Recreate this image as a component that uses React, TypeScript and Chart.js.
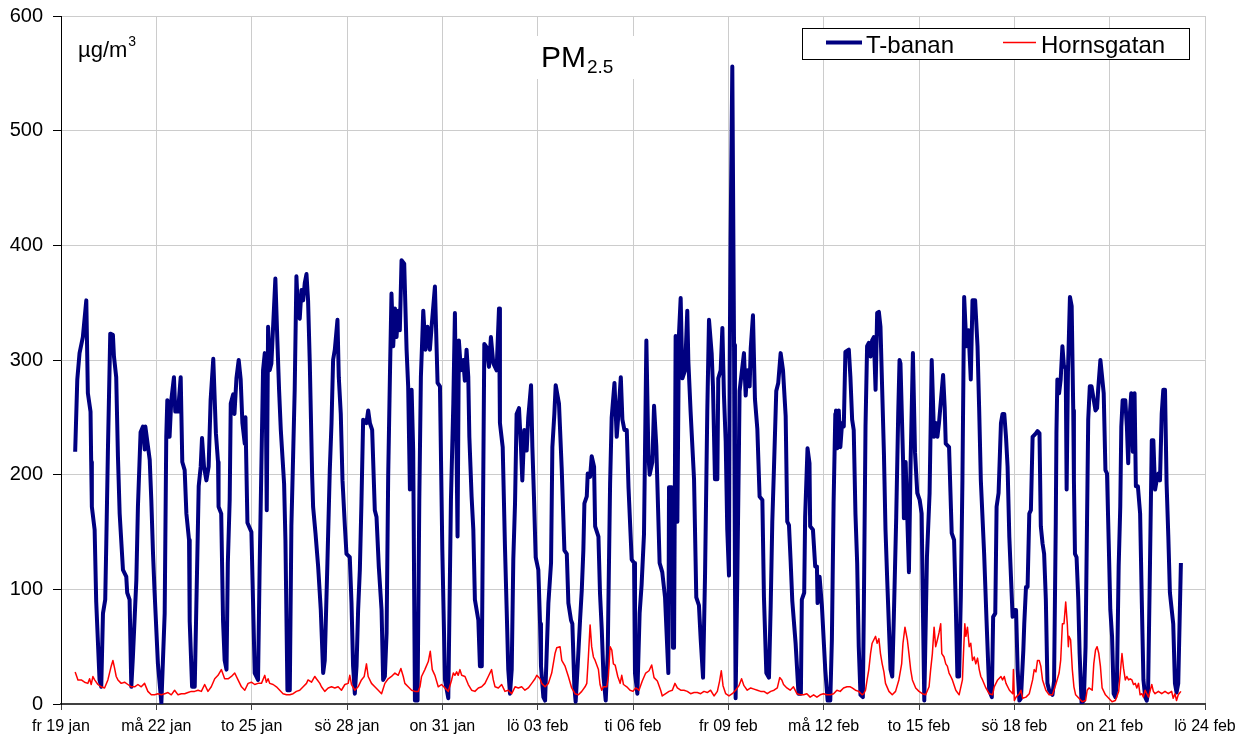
import React, { useEffect, useRef } from "react";
import { Chart, registerables } from "chart.js";

Chart.register(...registerables);

const FONT = '"Liberation Sans", Arial, sans-serif';

// x axis: hours since fr 19 jan 00:00, a tick every 3 days
const xTickLabels = [
  "fr 19 jan", "må 22 jan", "to 25 jan", "sö 28 jan", "on 31 jan", "lö 03 feb",
  "ti 06 feb", "fr 09 feb", "må 12 feb", "to 15 feb", "sö 18 feb", "on 21 feb", "lö 24 feb",
];
const xStepHours = 72;
const xMaxHours = 864;
const yMin = 0;
const yMax = 600;
const yStep = 100;

const titleMain = "PM";
const titleSub = "2.5";
const unitMain = "µg/m";
const unitSup = "3";
const seriesNames = ["T-banan", "Hornsgatan"];

// T-banan (hours, µg/m3)
const tbananHours = [
  10.7, 12.3, 14, 16.5, 19.1, 20.3, 22.3, 22.8, 23.3, 25.4, 26.6, 29.1, 30.4, 31.7, 33.4, 34.2, 35.4, 37.2, 39.2, 40,
  41.7, 43, 44.3, 46.8, 49.3, 50, 51.8, 53.1, 54.3, 56.9, 58.1, 60.1, 61.9, 63.2, 63.7, 67, 68.2, 69.5, 70.7, 73.2,
  75.8, 78.3, 79.5, 80.3, 82, 83.3, 85.3, 86.3, 88.4, 90.4, 91.6, 93.4, 94.7, 96.7, 97.2, 99, 101, 103, 104, 105.5,
  106.5, 108, 109.8, 111.5, 113, 115, 117, 118.6, 119, 121, 122.4, 123.6, 125, 126, 127.4, 128.2, 130, 131, 132.5, 134.2,
  135.7, 137, 138.8, 139.3, 140.8, 143.8, 146.3, 148.8, 150, 152.6, 153.9, 154.4, 155.4, 156.4, 157.6, 158.9, 161.9, 163.4, 164.7, 166,
  168.5, 169.5, 171, 172.8, 174, 175.3, 176.5, 177.8, 179, 180.3, 181.6, 182.9, 184.1, 185.4, 186.6, 187.9, 189.7, 190.4, 192.2, 194.2,
  196.2, 198, 199.2, 201.2, 203, 204.3, 205.5, 206.8, 208.8, 209.8, 211.3, 212.6, 214.4, 215.6, 218.1, 219.4, 220.6, 221.9, 223.2, 224.4,
  225.7, 226.9, 228.2, 230.7, 232, 233.3, 235, 237, 238.3, 240, 242.1, 243.3, 244.6, 245.9, 247.1, 248.4, 249.6, 250.9, 252.2, 253.4,
  254.7, 255.9, 257.2, 259.2, 261, 262.2, 263.5, 264.8, 266, 267.3, 269.3, 270.6, 271.8, 273.6, 275.3, 276.8, 278.6, 279.9, 282.4, 284.4,
  286.2, 288, 290, 292.5, 294.5, 296.3, 297.5, 299.5, 300.5, 302, 303.8, 305, 306.3, 307.6, 308.4, 310.1, 311.4, 312.6, 313.9, 315.2,
  316.4, 317.8, 319.7, 321.5, 323.2, 324.7, 326.5, 329, 330.8, 331.5, 333.6, 335.3, 336.6, 337.8, 339.1, 340.4, 341.6, 342.9, 344.1, 345.9,
  347.4, 348.4, 349.9, 351.7, 352.9, 355, 356, 357.2, 358.5, 360.5, 361.8, 362.5, 364.3, 365.6, 366.8, 368.1, 370.1, 371.1, 372.6, 373.6,
  376.1, 378.2, 380.2, 382, 383.2, 385.2, 386.2, 387.7, 388.7, 390.2, 392, 393.3, 394.5, 395.3, 397.1, 397.8, 399.6, 400.8, 402.6, 403.4,
  405.9, 407.1, 408.4, 409.7, 411.4, 412.9, 414.7, 415.9, 418, 419.7, 421, 422.8, 424, 425.5, 427.3, 428.6, 431, 432.8, 433.5, 435.3,
  437, 438.5, 440.3, 442.1, 443.6, 444.6, 446.6, 447.9, 449.6, 452.1, 454.1, 456.2, 458.7, 459.2, 461.2, 462.2, 463, 464.2, 465.5, 466.7,
  468, 469.3, 471.3, 473, 473.8, 475.5, 478.1, 479.8, 481.8, 483.1, 484.9, 486.4, 488.1, 489.4, 491.4, 492.4, 493.9, 495.7, 496.4, 498.2,
  499.5, 500.7, 502, 503.2, 504.5, 505, 505.7, 507, 508.3, 509, 509.5, 510.8, 512, 512.5, 514, 515.8, 517.1, 518.3, 520.1, 520.9,
  522.6, 524.1, 525.9, 527.6, 529.7, 530.9, 532.7, 534.7, 536, 537.2, 538.5, 540.2, 541.7, 543.5, 545.3, 547.3, 548.5, 549.8, 551, 552.3,
  554.8, 557, 558.8, 559.5, 561.3, 562, 563.8, 565.3, 565.8, 567.9, 569.6, 570.9, 571.4, 572.9, 574.7, 577.2, 579, 581, 582.2, 583.5,
  584.8, 585.3, 586.1, 587.4, 588.6, 589.9, 591.2, 592.4, 595, 596.2, 597.5, 598.7, 600, 601.3, 602.5, 603.8, 605.6, 606.3, 607.6, 608.8,
  610.1, 611.4, 612.6, 613.9, 615.2, 616.4, 617.7, 618.9, 620.2, 621.5, 622.7, 624, 625.3, 626.5, 627.8, 629, 630.8, 632.3, 633.3, 634,
  636, 636.6, 637.9, 640.4, 641.7, 643.4, 645, 646.7, 648.5, 650, 651, 652, 654, 656, 657.6, 659.4, 660.6, 661.9, 663.1, 666.2,
  667.4, 668.2, 670.7, 672.7, 674.5, 675.8, 677, 678.3, 679.6, 680.8, 682.1, 683.8, 685.4, 687.1, 688.4, 690.4, 692.2, 693.4, 694.7, 697.2,
  699, 701, 703, 704, 705.6, 706.6, 708.1, 709.9, 711.1, 712.4, 713.7, 714.9, 716.2, 718.7, 720, 721.3, 722.5, 723.8, 725, 726.8,
  727.5, 728.8, 730, 731.3, 732.5, 733.8, 736.3, 737.5, 739, 740, 741.3, 742.5, 743.8, 745, 746.3, 748.8, 750, 751.3, 751.8, 752.5,
  753.8, 755, 756.3, 757.5, 758.8, 759.5, 760.5, 762, 763.3, 764.5, 765, 765.8, 767, 768.3, 769.3, 770.8, 772.5, 773.8, 775.8, 777,
  778.3, 780, 781.3, 782.5, 783.3, 785, 786.3, 787.5, 788.8, 790, 791.3, 792.5, 793.8, 795, 796.3, 797.5, 798.8, 800, 800.8, 801.8,
  803.8, 805, 806, 806.8, 808.3, 809.5, 810.8, 811.8, 813.3, 815, 816.3, 817.5, 818.8, 820, 821, 822.5, 823.8, 825, 826.3, 827.5,
  828.8, 830, 831.3, 832.5, 833.8, 835, 836.3, 837.5, 840, 841.3, 842.5, 843.8, 845.8,
];
const tbananValues = [
  220, 283, 306, 320, 352, 271, 255, 211, 172, 152, 89, 21, 15, 79, 91, 140, 219, 323, 322, 303,
  285, 216, 166, 117, 111, 97, 91, 15, 41, 108, 172, 237, 242, 222, 242, 213, 178, 131, 97, 35,
  1, 79, 233, 265, 233, 265, 285, 255, 255, 285, 211, 204, 166, 143, 72, 15, 15, 131, 190, 207,
  232, 207, 195, 207, 265, 301, 236, 211, 172, 166, 72, 38, 30, 123, 178, 262, 270, 253, 284, 300,
  283, 245, 227, 250, 158, 150, 27, 21, 117, 291, 306, 303, 169, 329, 291, 297, 371, 317, 274, 239,
  192, 143, 12, 12, 155, 216, 274, 373, 341, 336, 361, 352, 367, 375, 352, 297, 198, 172, 149, 120,
  82, 27, 38, 123, 204, 245, 300, 309, 335, 285, 253, 195, 155, 131, 128, 88, 33, 9, 33, 82,
  117, 175, 248, 245, 256, 245, 239, 169, 163, 120, 82, 21, 24, 62, 198, 285, 358, 312, 345, 320,
  343, 326, 387, 384, 309, 277, 187, 274, 221, 3, 3, 178, 285, 343, 309, 329, 309, 329, 364, 280,
  277, 134, 21, 5, 178, 262, 341, 146, 317, 291, 300, 282, 309, 285, 233, 181, 152, 91, 82, 73,
  33, 33, 314, 311, 294, 320, 297, 291, 345, 245, 224, 137, 82, 30, 9, 30, 126, 175, 253, 258,
  224, 195, 239, 221, 250, 278, 224, 181, 128, 117, 70, 33, 6, 3, 44, 88, 123, 224, 253, 278,
  262, 204, 134, 131, 88, 73, 70, 15, 2, 33, 73, 99, 134, 175, 181, 201, 198, 216, 207, 155,
  146, 96, 65, 24, 3, 44, 192, 250, 280, 233, 253, 285, 248, 239, 239, 189, 126, 123, 27, 9,
  79, 104, 148, 317, 218, 200, 211, 260, 225, 123, 115, 93, 27, 189, 189, 49, 49, 321, 159, 322,
  354, 284, 291, 343, 299, 255, 196, 93, 86, 57, 23, 112, 255, 335, 306, 277, 196, 196, 284, 291,
  328, 269, 229, 152, 112, 291, 405, 556, 313, 112, 5, 112, 222, 273, 288, 306, 269, 291, 277, 310,
  339, 266, 240, 181, 178, 93, 27, 23, 86, 159, 207, 273, 280, 306, 291, 251, 159, 156, 126, 90,
  53, 9, 9, 91, 97, 163, 223, 210, 155, 152, 120, 120, 88, 111, 85, 30, 3, 3, 56, 175,
  253, 256, 223, 256, 224, 245, 242, 307, 309, 285, 248, 239, 166, 123, 50, 8, 6, 79, 242, 312,
  315, 303, 317, 320, 274, 341, 342, 329, 274, 219, 152, 108, 67, 30, 24, 76, 163, 253, 300, 297,
  211, 162, 211, 115, 213, 306, 219, 184, 178, 166, 79, 3, 128, 184, 300, 233, 245, 233, 245, 287,
  259, 227, 224, 149, 143, 85, 24, 24, 94, 195, 355, 312, 326, 283, 352, 352, 312, 259, 195, 131,
  73, 12, 6, 76, 79, 172, 184, 245, 253, 253, 233, 207, 146, 76, 82, 82, 30, 3, 5, 47,
  70, 102, 102, 166, 169, 233, 236, 238, 236, 155, 140, 131, 91, 18, 12, 8, 20, 158, 236, 283,
  271, 283, 312, 294, 294, 187, 290, 355, 347, 256, 195, 131, 128, 91, 44, 1, 3, 50, 248, 277,
  277, 265, 256, 258, 274, 300, 285, 271, 204, 201, 140, 82, 59, 9, 6, 20, 120, 172, 242, 265,
  265, 242, 210, 245, 271, 220, 271, 190, 190, 166, 88, 21, 6, 3, 10, 126, 230, 230, 187, 195,
  201, 195, 253, 274, 274, 192, 146, 97, 70, 18, 10, 18, 123,
];

// Hornsgatan (hours, µg/m3)
const hornsHours = [
  10.7, 12.8, 15.3, 17.8, 20.3, 21.6, 22.8, 24.1, 25.4, 27.9, 30.4, 32.9, 35.4, 37.9, 39.2, 40.5, 41.7, 43, 45.5, 48,
  50.5, 53.1, 55.6, 58.1, 60.6, 63.1, 65.6, 68.2, 70.7, 73.2, 75.7, 78.3, 80.8, 83.3, 85.8, 88.4, 90.9, 93.4, 95.9, 98.4,
  100.9, 103.5, 106, 108.5, 111, 113.5, 116.1, 118.6, 121.1, 123.6, 126.2, 128.7, 131.2, 133.7, 136.3, 138.8, 141.3, 143.8, 146.3, 148.8,
  151.4, 153.9, 155.1, 156.4, 157.6, 160.2, 162.7, 165.2, 167.7, 170.3, 172.8, 175.3, 177.8, 180.3, 182.9, 185.4, 186.6, 189.2, 191.7, 192.9,
  195.5, 196.7, 199.2, 201.8, 204.3, 206.8, 209.3, 211.8, 214.4, 216.9, 218.1, 219.4, 221.9, 224.4, 226.9, 229, 230.7, 232, 234.5, 237,
  239.6, 242.1, 244.6, 247.1, 249.6, 252.2, 254.7, 256.7, 258.5, 259.7, 262.2, 264.8, 267.3, 269.8, 271.1, 272.3, 274.8, 277.4, 278.9, 280.4,
  282.4, 284.9, 287.4, 290, 292.5, 295, 296.3, 297.5, 298.8, 300, 301.3, 302.6, 305.1, 307.6, 310.1, 312.6, 315.2, 317.7, 320.2, 322.7,
  325.2, 326.5, 327.8, 330.3, 332.8, 335.3, 337.8, 340.4, 342.9, 345.4, 347.9, 350.4, 352.9, 355.5, 358, 359.3, 361.8, 363, 365.6, 368.1,
  370.6, 373.1, 374.4, 376.9, 378.2, 380.7, 383.2, 385.7, 388.2, 390.8, 393.3, 395.8, 397.1, 398.3, 399.6, 400.8, 402.1, 403.4, 405.9, 407.1,
  408.4, 409.7, 412.2, 413.4, 414.7, 416, 417.2, 418.5, 420.5, 422.3, 423.5, 424.8, 427.3, 429.8, 432, 434, 436.5, 439, 441.6, 444.1,
  446.1, 447.9, 450.4, 452.9, 454.1, 456.7, 459.2, 461.7, 463.7, 465.5, 468, 470.5, 473, 475.5, 478.1, 480.6, 483.1, 485.6, 488.1, 490.6,
  493.2, 495.7, 497.4, 498.7, 500, 502, 504.5, 507, 509.5, 512, 514, 515.8, 518.3, 520.9, 523.4, 525.9, 528.4, 530.9, 533.4, 536,
  538.5, 541, 542.8, 544.4, 545.7, 548.2, 550.7, 553.2, 555.8, 558.3, 560.8, 563.3, 565.8, 568.4, 570.9, 573.4, 575.9, 578.4, 581, 583.5,
  586, 588.5, 591, 593.6, 596.1, 597.5, 600, 602.5, 605, 606.3, 607.6, 608.8, 610.1, 611.4, 612.6, 613.9, 615.2, 616.4, 617.7, 618.9,
  620.2, 621.5, 622.7, 625.3, 627.8, 630.3, 632.8, 634.9, 635.9, 637.4, 639.2, 640.4, 641.7, 643, 645.5, 648, 650.5, 653, 655.6, 656.8,
  658.1, 659.4, 660.6, 661.9, 663.1, 664.4, 665.2, 666.9, 668.2, 669.4, 670.7, 672, 673.2, 675.8, 678.3, 680.8, 681.6, 682.6, 683.4, 684.6,
  685.9, 687.1, 688.4, 689.7, 690.9, 692.2, 693.5, 694.7, 696, 698.5, 701, 703.6, 704.8, 706.1, 707.4, 709.9, 711.1, 712.4, 713.7, 716.3,
  718.8, 719.3, 720, 721.3, 723.8, 725, 726.3, 728.8, 731.3, 733.8, 735, 736.3, 737.5, 738.8, 740, 741.3, 743.8, 746.3, 748.8, 751.3,
  753.8, 755, 756.3, 757.5, 758.8, 760, 760.8, 761.3, 762.5, 763.8, 765, 766.3, 768.8, 771.3, 773.8, 775, 776.3, 778.8, 780, 781.3,
  782.5, 783.8, 785, 786.3, 788.8, 791.3, 793.8, 796.3, 798.8, 801.3, 802.5, 803.8, 805, 806.3, 807.5, 808.8, 810, 811.3, 812.5, 813.8,
  815, 816.3, 817.5, 818.8, 821.3, 823.8, 825, 826.3, 828.8, 831.3, 833.8, 836.3, 838.8, 840, 841.3, 842.5, 843.8, 845.8,
];
const hornsValues = [
  28, 21, 21, 19, 18, 22, 17, 24, 21, 17, 15, 14, 21, 33, 38, 31, 24, 21, 18, 19,
  17, 15, 15, 17, 15, 18, 11, 8, 8, 9, 8, 9, 10, 8, 12, 8, 9, 9, 10, 11,
  11, 12, 11, 17, 11, 15, 22, 25, 30, 22, 22, 24, 27, 21, 15, 12, 18, 19, 17, 18,
  18, 25, 19, 22, 18, 17, 15, 12, 9, 8, 8, 9, 11, 12, 15, 18, 21, 19, 24, 22,
  18, 15, 11, 14, 15, 14, 15, 12, 17, 18, 25, 17, 12, 15, 21, 24, 35, 24, 18, 15,
  12, 9, 18, 22, 24, 27, 25, 31, 24, 18, 15, 12, 11, 11, 15, 24, 30, 37, 46, 30,
  25, 15, 17, 14, 11, 21, 27, 25, 28, 25, 30, 25, 24, 17, 12, 11, 14, 15, 18, 24,
  30, 21, 15, 14, 17, 11, 12, 9, 15, 14, 15, 12, 14, 18, 22, 25, 22, 18, 15, 18,
  27, 44, 49, 50, 38, 33, 24, 14, 9, 8, 11, 15, 18, 41, 69, 50, 41, 38, 30, 17,
  12, 15, 15, 24, 50, 47, 35, 34, 24, 18, 25, 17, 15, 12, 11, 14, 12, 20, 27, 29,
  34, 23, 20, 12, 7, 9, 11, 12, 18, 14, 12, 12, 11, 9, 10, 10, 9, 11, 10, 12,
  7, 11, 20, 29, 16, 9, 7, 9, 12, 16, 22, 16, 12, 14, 13, 12, 11, 11, 9, 11,
  12, 14, 23, 21, 17, 14, 12, 15, 9, 8, 8, 9, 6, 8, 6, 8, 9, 8, 8, 9,
  12, 11, 14, 15, 15, 14, 12, 11, 8, 9, 12, 21, 30, 44, 53, 56, 59, 53, 57, 44,
  35, 28, 18, 11, 8, 11, 21, 35, 53, 67, 56, 44, 30, 21, 14, 11, 9, 8, 15, 30,
  44, 67, 50, 56, 62, 70, 44, 41, 35, 33, 27, 24, 21, 12, 8, 21, 44, 70, 59, 67,
  50, 53, 38, 41, 35, 40, 30, 24, 21, 14, 9, 8, 15, 18, 21, 24, 21, 24, 18, 12,
  9, 30, 3, 6, 9, 12, 5, 6, 9, 21, 30, 28, 38, 38, 33, 21, 12, 8, 8, 17,
  27, 38, 70, 70, 89, 70, 50, 59, 56, 30, 15, 8, 5, 2, 3, 12, 14, 12, 35, 47,
  50, 44, 33, 14, 8, 5, 2, 3, 11, 44, 31, 21, 24, 21, 22, 21, 17, 18, 14, 18,
  8, 9, 6, 12, 6, 17, 11, 9, 11, 9, 11, 9, 11, 5, 9, 3, 8, 11,
];

const toPoints = (hours: number[], values: number[]) =>
  hours.map((h, i) => ({ x: h, y: values[i] }));

const overlayPlugin = {
  id: "overlayTexts",
  afterDraw(chart: any) {
    const ctx: CanvasRenderingContext2D = chart.ctx;
    ctx.save();
    ctx.textAlign = "left";
    ctx.textBaseline = "alphabetic";

    // title PM2.5 on white box
    ctx.fillStyle = "#ffffff";
    ctx.fillRect(530, 36, 110, 43);
    ctx.fillStyle = "#000000";
    ctx.font = `30px ${FONT}`;
    ctx.fillText(titleMain, 541, 67);
    const tw = ctx.measureText(titleMain).width;
    ctx.font = `19px ${FONT}`;
    ctx.fillText(titleSub, 541 + tw + 1, 73);

    // unit µg/m3
    ctx.font = `22px ${FONT}`;
    ctx.fillText(unitMain, 78, 57);
    const uw = ctx.measureText(unitMain).width;
    ctx.font = `14px ${FONT}`;
    ctx.fillText(unitSup, 78 + uw + 1, 46);

    // legend
    ctx.fillStyle = "#ffffff";
    ctx.fillRect(802.5, 28.5, 387, 31);
    ctx.strokeStyle = "#000000";
    ctx.lineWidth = 1;
    ctx.strokeRect(802.5, 28.5, 387, 31);

    const ds = chart.data.datasets;
    ctx.lineCap = "butt";
    ctx.strokeStyle = ds[0].borderColor;
    ctx.lineWidth = ds[0].borderWidth;
    ctx.beginPath();
    ctx.moveTo(826, 42.5);
    ctx.lineTo(862, 42.5);
    ctx.stroke();
    ctx.strokeStyle = ds[1].borderColor;
    ctx.lineWidth = ds[1].borderWidth;
    ctx.beginPath();
    ctx.moveTo(1003, 42.5);
    ctx.lineTo(1036, 42.5);
    ctx.stroke();

    ctx.fillStyle = "#000000";
    ctx.font = `24px ${FONT}`;
    ctx.fillText(ds[0].label, 866, 53);
    ctx.fillText(ds[1].label, 1041, 53);
    ctx.restore();
  },
};

export default function App() {
  const canvasRef = useRef<HTMLCanvasElement | null>(null);

  useEffect(() => {
    if (!canvasRef.current) return;
    const chart = new Chart(canvasRef.current, {
      type: "line",
      data: {
        datasets: [
          {
            label: seriesNames[0],
            data: toPoints(tbananHours, tbananValues),
            borderColor: "#000080",
            backgroundColor: "#000080",
            borderWidth: 4,
            borderJoinStyle: "round",
            pointRadius: 0,
            tension: 0,
            order: 1,
          },
          {
            label: seriesNames[1],
            data: toPoints(hornsHours, hornsValues),
            borderColor: "#ff0000",
            backgroundColor: "#ff0000",
            borderWidth: 1.5,
            borderJoinStyle: "round",
            pointRadius: 0,
            tension: 0,
            order: 0,
          },
        ],
      },
      options: {
        animation: false,
        responsive: false,
        devicePixelRatio: 1,
        layout: { padding: { left: 0, right: 40, top: 16, bottom: 0 }, autoPadding: false },
        plugins: {
          legend: { display: false },
          tooltip: { enabled: false },
          title: { display: false },
        },
        scales: {
          x: {
            type: "linear",
            min: 0,
            max: xMaxHours,
            afterFit: (scale: any) => {
              scale.height = 32;
              scale.paddingLeft = 0;
              scale.paddingRight = 0;
            },
            ticks: {
              stepSize: xStepHours,
              autoSkip: false,
              maxRotation: 0,
              minRotation: 0,
              padding: 7,
              color: "#000",
              font: { family: FONT, size: 16 },
              callback: (v: any) => xTickLabels[Math.round(Number(v) / xStepHours)] ?? "",
            },
            grid: { color: "#cccccc", lineWidth: 1, tickLength: 6, tickColor: "#404040" },
            border: { display: true, color: "#404040", width: 2 },
          },
          y: {
            type: "linear",
            min: yMin,
            max: yMax,
            afterFit: (scale: any) => {
              scale.width = 61;
              scale.paddingTop = 0;
              scale.paddingBottom = 0;
            },
            ticks: {
              stepSize: yStep,
              padding: 10,
              color: "#000",
              font: { family: FONT, size: 20 },
            },
            grid: { color: "#cccccc", lineWidth: 1, tickLength: 8, tickColor: "#000" },
            border: { display: true, color: "#000", width: 1 },
          },
        },
      },
      plugins: [overlayPlugin],
    });
    return () => chart.destroy();
  }, []);

  return (
    <div style={{ position: "fixed", left: 0, top: 0, width: 1245, height: 736, background: "#fff" }}>
      <canvas ref={canvasRef} width={1245} height={736} style={{ display: "block" }} />
    </div>
  );
}
